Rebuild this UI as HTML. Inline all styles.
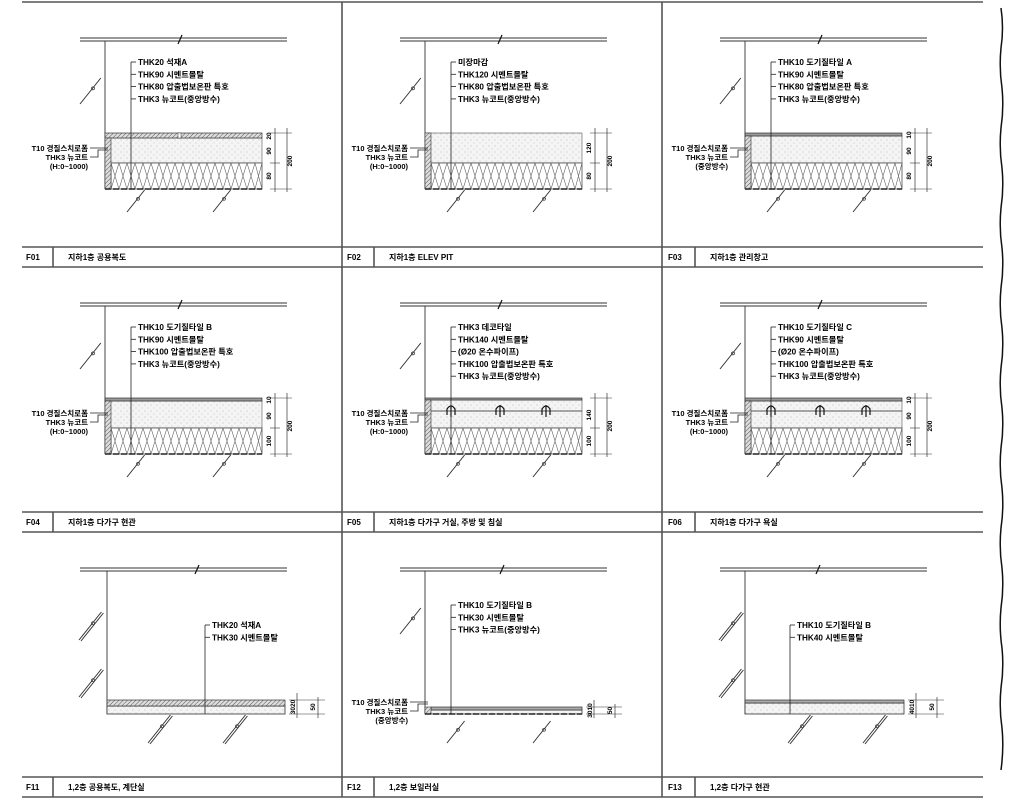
<!DOCTYPE html>
<html><head><meta charset="utf-8">
<style>
html,body{margin:0;padding:0;background:#fff;}
svg{display:block;}
text{font-family:"Liberation Sans","Noto Sans CJK KR",sans-serif;font-weight:bold;fill:#000;}
</style></head>
<body>
<svg id="s" width="1016" height="812" viewBox="0 0 1016 812" xmlns="http://www.w3.org/2000/svg">
<defs>
<pattern id="hatch" width="3" height="3" patternUnits="userSpaceOnUse" patternTransform="rotate(45)">
<rect width="3" height="3" fill="#ddd"/><line x1="0" y1="0" x2="0" y2="3" stroke="#555" stroke-width="1"/></pattern>
<pattern id="mort" width="6" height="6" patternUnits="userSpaceOnUse">
<rect width="6" height="6" fill="#f4f4f4"/><circle cx="1" cy="2" r="0.5" fill="#aaa"/><circle cx="4" cy="5" r="0.5" fill="#bbb"/></pattern>
</defs>
<g stroke="#555" stroke-width="1.6" fill="none">
<line x1="22" y1="2" x2="983" y2="2"/>
<line x1="342" y1="2" x2="342" y2="797"/>
<line x1="662" y1="2" x2="662" y2="797"/>
<line x1="22" y1="247" x2="983" y2="247"/><line x1="22" y1="267" x2="983" y2="267"/>
<line x1="22" y1="512" x2="983" y2="512"/><line x1="22" y1="532" x2="983" y2="532"/>
<line x1="22" y1="777" x2="983" y2="777"/><line x1="22" y1="797" x2="983" y2="797"/>
<line x1="53" y1="247" x2="53" y2="267"/><line x1="374" y1="247" x2="374" y2="267"/><line x1="695" y1="247" x2="695" y2="267"/>
<line x1="53" y1="512" x2="53" y2="532"/><line x1="374" y1="512" x2="374" y2="532"/><line x1="695" y1="512" x2="695" y2="532"/>
<line x1="53" y1="777" x2="53" y2="797"/><line x1="374" y1="777" x2="374" y2="797"/><line x1="695" y1="777" x2="695" y2="797"/>
</g>
<path d="M1001 8 q3 20 0 40 q-2 20 1 40 q2 20 -1 40 q-2 20 1 40 q2 20 -1 40 q-2 20 1 40 q2 20 -1 40 q-2 20 1 40 q2 20 -1 40 q-2 20 1 40 q2 20 -1 40 q-2 20 1 40 q2 20 -1 40 q-2 20 1 40 q2 20 -1 40 q-2 20 1 40 q2 20 -1 40 q-2 20 1 40 q2 20 -1 42" stroke="#111" stroke-width="1.5" fill="none"/>
<g id="titles" font-size="8">
<text x="26" y="260">F01</text><text x="68" y="260">지하1층 공용복도</text>
<text x="347" y="260">F02</text><text x="389" y="260">지하1층 ELEV PIT</text>
<text x="668" y="260">F03</text><text x="710" y="260">지하1층 관리창고</text>
<text x="26" y="525">F04</text><text x="68" y="525">지하1층 다가구 현관</text>
<text x="347" y="525">F05</text><text x="389" y="525">지하1층 다가구 거실, 주방 및 침실</text>
<text x="668" y="525">F06</text><text x="710" y="525">지하1층 다가구 욕실</text>
<text x="26" y="790">F11</text><text x="68" y="790">1,2층 공용복도, 계단실</text>
<text x="347" y="790">F12</text><text x="389" y="790">1,2층 보일러실</text>
<text x="668" y="790">F13</text><text x="710" y="790">1,2층 다가구 현관</text>
</g>
<g id="panels"></g>
</svg>
<script>
var P=document.getElementById("panels");
function add(h){P.insertAdjacentHTML("beforeend",h);}
function diag(x,y,len,dbl){var s='<line x1="'+x+'" y1="'+y+'" x2="'+(x+len*0.8)+'" y2="'+(y-len)+'" stroke="#333" stroke-width="1"/>';if(dbl)s+='<line x1="'+(x+2)+'" y1="'+(y+1)+'" x2="'+(x+2+len*0.8)+'" y2="'+(y+1-len)+'" stroke="#333" stroke-width="1"/>';s+='<circle cx="'+(x+len*0.5)+'" cy="'+(y-len*0.6)+'" r="1.5" stroke="#333" fill="none" stroke-width=".7"/>';return s;}
function ins(x1,x2,y1,y2){var s='<rect x="'+x1+'" y="'+y1+'" width="'+(x2-x1)+'" height="'+(y2-y1)+'" fill="#fff" stroke="#333" stroke-width=".7"/><path d="';var w=8;for(var x=x1;x<x2-1;x+=w){var e=Math.min(x+w,x2);s+='M'+x+' '+y1+' L'+e+' '+y2+' M'+e+' '+y1+' L'+x+' '+y2+' ';}return s+'" stroke="#666" stroke-width=".6" fill="none"/>';}
function labels(x,y,arr,lineBot){var s='<line x1="'+x+'" y1="'+y+'" x2="'+x+'" y2="'+lineBot+'" stroke="#222" stroke-width=".8"/>';arr.forEach(function(t,i){var yy=y+i*12.3;s+='<line x1="'+x+'" y1="'+yy+'" x2="'+(x+5)+'" y2="'+yy+'" stroke="#222" stroke-width=".8"/><text x="'+(x+7)+'" y="'+(yy+3)+'" font-size="8.2">'+t+'</text>';});return s;}
function left(x,y,arr){var s='';arr.forEach(function(t,i){s+='<text x="'+x+'" y="'+(y+i*9)+'" font-size="7.5" text-anchor="end">'+t+'</text>';});s+='<line x1="'+(x+2)+'" y1="'+(y-3)+'" x2="'+(x+20)+'" y2="'+(y-3)+'" stroke="#222" stroke-width=".8"/><polyline points="'+(x+2)+','+(y+6)+' '+(x+10)+','+(y+6)+' '+(x+10)+','+(y-1)+' '+(x+20)+','+(y-1)+'" stroke="#222" stroke-width=".8" fill="none"/>';return s;}
function dimtxt(x,y,t){return '<text x="'+x+'" y="'+y+'" font-size="6.5" transform="rotate(-90 '+x+' '+y+')" text-anchor="middle">'+t+'</text>';}
function panelA(ox,oy,c){
 var s='<g transform="translate('+ox+','+oy+')">';
 s+='<line x1="80" y1="38" x2="287" y2="38" stroke="#333" stroke-width=".9"/><line x1="80" y1="41" x2="287" y2="41" stroke="#333" stroke-width=".9"/><line x1="178" y1="44" x2="182" y2="35" stroke="#111" stroke-width="1.2"/>';
 s+='<line x1="105" y1="41" x2="105" y2="189" stroke="#333" stroke-width=".9"/>';
 s+=diag(80,104,26,false);
 var T=133,tb=c.tb,mb=c.mb,B=189;
 s+='<rect x="105" y="'+tb+'" width="157" height="'+(mb-tb)+'" fill="url(#mort)" stroke="#555" stroke-width=".6"/>';
 s+=ins(111,262,mb,B);
 if(c.tile)s+='<rect x="105" y="'+T+'" width="157" height="'+(tb-T)+'" fill="'+(c.tile=="h"?"url(#hatch)":"#999")+'" stroke="#333" stroke-width=".7"/>';
 if(c.tile=="h")s+='<rect x="178" y="'+T+'" width="3" height="'+(tb-T)+'" fill="#fff" stroke="#333" stroke-width=".5"/>';
 s+='<rect x="105" y="'+tb+'" width="6" height="'+(B-tb)+'" fill="url(#hatch)" stroke="#333" stroke-width=".6"/>';
 s+='<line x1="105" y1="189" x2="262" y2="189" stroke="#222" stroke-width="1.4" stroke-dasharray="6 2"/>';
 if(c.pipe){s+='<line x1="111" y1="146" x2="262" y2="146" stroke="#222" stroke-width=".8"/>';[131,180,226].forEach(function(px){s+='<path d="M'+(px-4)+' 150 L'+(px-4)+' 144 Q'+px+' 138 '+(px+4)+' 144 L'+(px+4)+' 150 M'+px+' 140 L'+px+' 152" stroke="#111" stroke-width="1.2" fill="none"/>';});}
 s+=diag(127,212,22,false)+diag(213,212,22,false);
 s+='<line x1="270" y1="'+T+'" x2="292" y2="'+T+'" stroke="#333" stroke-width=".6"/><line x1="270" y1="'+mb+'" x2="280" y2="'+mb+'" stroke="#333" stroke-width=".6"/><line x1="270" y1="'+B+'" x2="292" y2="'+B+'" stroke="#333" stroke-width=".6"/>';
 s+='<line x1="275" y1="'+(T-5)+'" x2="275" y2="'+(B+3)+'" stroke="#333" stroke-width=".7"/><line x1="287" y1="'+(T-5)+'" x2="287" y2="'+(B+3)+'" stroke="#333" stroke-width=".7"/>';
 c.dims.forEach(function(d){s+=dimtxt(271,d[0],d[1]);});
 s+=dimtxt(292,(T+B)/2,c.tot);
 s+=labels(131,62,c.labels,189);
 s+=left(88,151,c.left);
 return s+'</g>';
}
function panelB(ox,oy,c){
 var s='<g transform="translate('+ox+','+oy+')">';
 s+='<line x1="80" y1="568" x2="287" y2="568" stroke="#333" stroke-width=".9"/><line x1="80" y1="571" x2="287" y2="571" stroke="#333" stroke-width=".9"/><line x1="'+c.brk+'" y1="574" x2="'+(c.brk+4)+'" y2="565" stroke="#111" stroke-width="1.2"/>';
 s+='<line x1="'+c.wx+'" y1="571" x2="'+c.wx+'" y2="714" stroke="#333" stroke-width=".9"/>';
 if(c.dbl){s+=diag(79,640,28,true)+diag(79,697,28,true);s+=diag(148,743,28,true)+diag(223,743,28,true);}
 else{s+=diag(80,634,26,false)+diag(127,743,22,false)+diag(213,743,22,false);}
 var T=c.T,tb=c.tb,B=714,R=c.R;
 s+='<rect x="'+c.wx+'" y="'+tb+'" width="'+(R-c.wx)+'" height="'+(B-tb)+'" fill="url(#mort)" stroke="#333" stroke-width=".8"/>';
 s+='<rect x="'+(c.wx+(c.wall?6:0))+'" y="'+T+'" width="'+(R-c.wx-(c.wall?6:0))+'" height="'+(tb-T)+'" fill="'+(c.tile=="h"?"url(#hatch)":"#aaa")+'" stroke="#333" stroke-width=".7"/>';
 if(c.wall)s+='<rect x="'+c.wx+'" y="'+T+'" width="6" height="'+(B-T)+'" fill="url(#hatch)" stroke="#333" stroke-width=".6"/><line x1="'+c.wx+'" y1="714" x2="'+R+'" y2="714" stroke="#222" stroke-width="1.4" stroke-dasharray="6 2"/>';
 s+='<line x1="'+(R+4)+'" y1="'+T+'" x2="'+(R+40)+'" y2="'+T+'" stroke="#333" stroke-width=".6"/><line x1="'+(R+4)+'" y1="714" x2="'+(R+40)+'" y2="714" stroke="#333" stroke-width=".6"/>';
 s+='<line x1="'+(R+12)+'" y1="'+(T-7)+'" x2="'+(R+12)+'" y2="718" stroke="#333" stroke-width=".7"/><line x1="'+(R+33)+'" y1="'+(T-3)+'" x2="'+(R+33)+'" y2="718" stroke="#333" stroke-width=".7"/>';
 s+=dimtxt(R+10,(T+B)/2,c.d1)+dimtxt(R+30,(T+B)/2,"50");
 s+=labels(c.lx,c.ly,c.labels,714);
 if(c.left)s+=left(88,705,c.left);
 return s+'</g>';
}
var L1=["T10 경질스치로폼","THK3 뉴코트","(H:0~1000)"],L2=["T10 경질스치로폼","THK3 뉴코트","(중앙방수)"];
add(panelA(0,0,{tile:"h",tb:138,mb:163,dims:[[136,"20"],[151,"90"],[176,"80"]],tot:"200",left:L1,labels:["THK20 석재A","THK90 시멘트몰탈","THK80 압출법보온판 특호","THK3 뉴코트(중앙방수)"]}));
add(panelA(320,0,{tile:null,tb:133,mb:163,dims:[[148,"120"],[176,"80"]],tot:"200",left:L1,labels:["미장마감","THK120 시멘트몰탈","THK80 압출법보온판 특호","THK3 뉴코트(중앙방수)"]}));
add(panelA(640,0,{tile:"d",tb:136,mb:163,dims:[[135,"10"],[151,"90"],[176,"80"]],tot:"200",left:L2,labels:["THK10 도기질타일 A","THK90 시멘트몰탈","THK80 압출법보온판 특호","THK3 뉴코트(중앙방수)"]}));
add(panelA(0,265,{tile:"d",tb:136,mb:163,dims:[[135,"10"],[151,"90"],[176,"100"]],tot:"200",left:L1,labels:["THK10 도기질타일 B","THK90 시멘트몰탈","THK100 압출법보온판 특호","THK3 뉴코트(중앙방수)"]}));
add(panelA(320,265,{tile:"d",tb:135,mb:163,pipe:1,dims:[[150,"140"],[176,"100"]],tot:"200",left:L1,labels:["THK3 데코타일","THK140 시멘트몰탈","(Ø20 온수파이프)","THK100 압출법보온판 특호","THK3 뉴코트(중앙방수)"]}));
add(panelA(640,265,{tile:"d",tb:136,mb:163,pipe:1,dims:[[135,"10"],[151,"90"],[176,"100"]],tot:"200",left:L1,labels:["THK10 도기질타일 C","THK90 시멘트몰탈","(Ø20 온수파이프)","THK100 압출법보온판 특호","THK3 뉴코트(중앙방수)"]}));
add(panelB(0,0,{wx:107,brk:195,dbl:1,T:700,tb:706,R:285,tile:"h",d1:"3020",lx:205,ly:625,labels:["THK20 석재A","THK30 시멘트몰탈"]}));
add(panelB(320,0,{wx:105,brk:180,dbl:0,T:707,tb:710,R:262,tile:"d",wall:1,d1:"3010",lx:131,ly:605,labels:["THK10 도기질타일 B","THK30 시멘트몰탈","THK3 뉴코트(중앙방수)"],left:L2}));
add(panelB(640,0,{wx:105,brk:176,dbl:1,T:700,tb:703,R:264,tile:"d",d1:"4010",lx:150,ly:625,labels:["THK10 도기질타일 B","THK40 시멘트몰탈"]}));
</script>
</body></html>
